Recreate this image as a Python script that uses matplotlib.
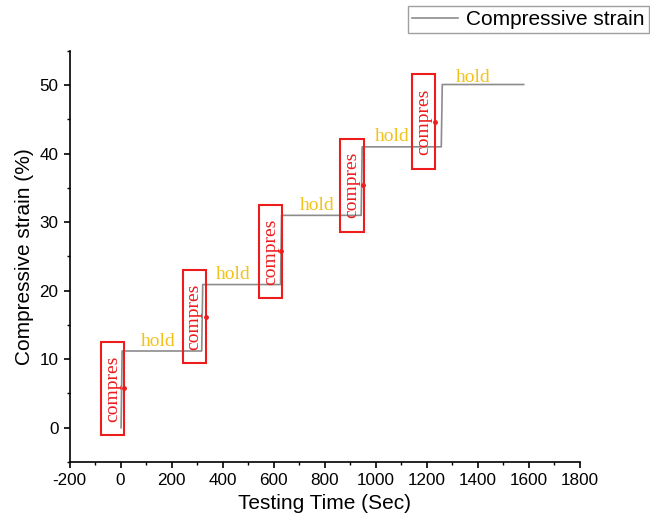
import numpy as np
import matplotlib.pyplot as plt
from matplotlib.patches import Rectangle
from matplotlib.ticker import MultipleLocator

# ---- step data
time_s = [2, 6, 318, 322, 627, 631, 943, 947, 1257, 1261, 1580]
strain = [0.0, 11.2, 11.2, 20.9, 20.9, 31.0, 31.0, 41.0, 41.0, 50.1, 50.1]

# ---- annotations: "compres" boxes (left, bottom, right, top) and "hold" labels
box_left = [-75, 243, 543, 862, 1143]
box_right = [15, 334, 631, 953, 1234]
box_bottom = [-1.0, 9.4, 19.0, 28.6, 37.8]
box_top = [12.5, 23.0, 32.5, 42.2, 51.6]
hold_x = [146, 440, 769, 1064, 1383]
hold_y = [11.4, 21.1, 31.2, 41.2, 49.9]

plt.rcParams['font.family'] = ['Liberation Sans', 'DejaVu Sans']
plt.rcParams['axes.unicode_minus'] = False

fig = plt.figure(figsize=(6.5, 5.29), dpi=100)
ax = fig.add_axes([0.107, 0.1267, 0.785, 0.777])

ax.plot(time_s, strain, color='#8c8c8c', lw=1.2, label='Compressive strain')

serif = ['Liberation Serif', 'DejaVu Serif']
for l, r, b, t in zip(box_left, box_right, box_bottom, box_top):
    ax.add_patch(Rectangle((l, b), r - l, t - b, fill=False, edgecolor='#ee1c1c', lw=1.5, zorder=3))
    ax.text((l + r) / 2, (b + t) / 2, 'compres', rotation=90, ha='center', va='center',
            color='#ee1c1c', fontsize=14, family=serif, zorder=4)
    ax.plot([r - 1], [(b + t) / 2], 'o', color='#ee1c1c', ms=2.5, zorder=4)

for hx, hy in zip(hold_x, hold_y):
    ax.text(hx, hy, 'hold', ha='center', va='bottom', color='#f2c21b',
            fontsize=14, family=serif)

ax.set_xlim(-200, 1800)
ax.set_ylim(-5, 55)
ax.xaxis.set_major_locator(MultipleLocator(200))
ax.xaxis.set_minor_locator(MultipleLocator(100))
ax.yaxis.set_major_locator(MultipleLocator(10))
ax.yaxis.set_minor_locator(MultipleLocator(5))

for side in ['top', 'right']:
    ax.spines[side].set_visible(False)
for side in ['left', 'bottom']:
    ax.spines[side].set_linewidth(1.2)
ax.tick_params(which='major', direction='out', length=4.5, width=1.2, labelsize=12.3)
ax.tick_params(which='minor', direction='out', length=2.5, width=1.0)

ax.set_xlabel('Testing Time (Sec)', fontsize=15)
ax.set_ylabel('Compressive strain (%)', fontsize=15)

fig.legend(loc='upper left', bbox_to_anchor=(408 / 650, 1 - 5.7 / 529), fontsize=15,
           frameon=True, fancybox=False, edgecolor='#a0a0a0', framealpha=1,
           handlelength=2.2, handletextpad=0.4, borderpad=0.2, borderaxespad=0)

plt.savefig('out.png', dpi=100)
plt.close()
